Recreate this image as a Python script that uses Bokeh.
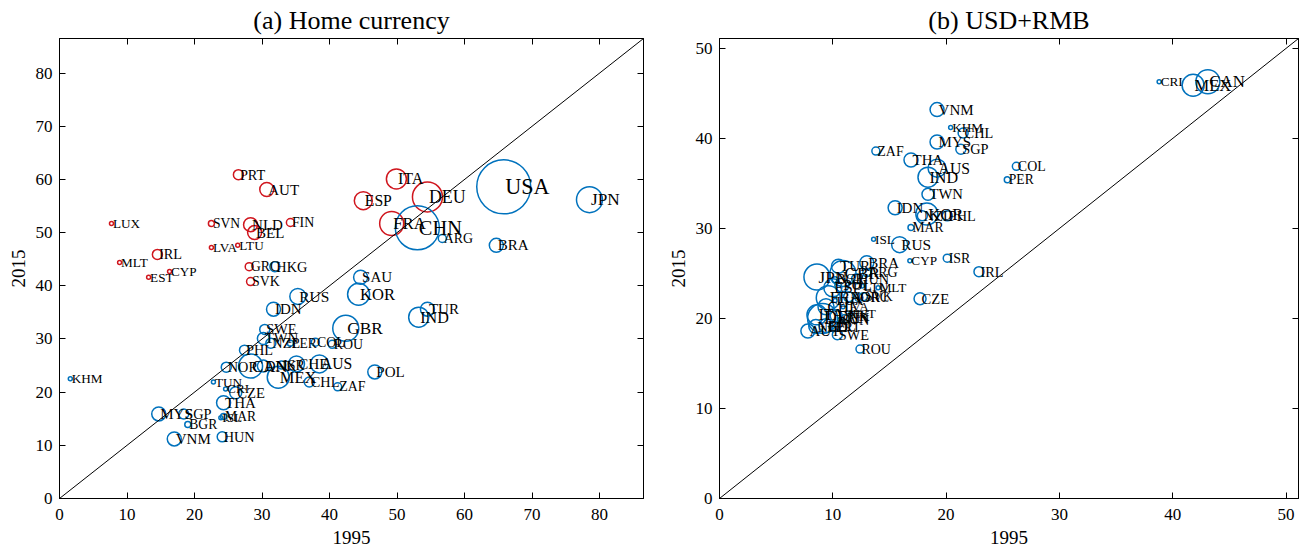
from bokeh.plotting import figure
from bokeh.layouts import row
from bokeh.models import LinearAxis, Range1d, ColumnDataSource, FixedTicker, Slope, CustomJSTickFormatter
from bokeh.core.properties import value
from bokeh.embed import file_html
from bokeh.resources import INLINE
import math

# ---------------- data ----------------
countries = ["PRT", "AUT", "LUX", "SVN", "NLD", "BEL", "FIN", "LVA", "LTU", "IRL",
             "MLT", "EST", "CYP", "GRC", "SVK", "ITA", "ESP", "DEU", "FRA", "HKG",
             "USA", "JPN", "CHN", "ARG", "BRA", "SAU", "KOR", "TUR", "IND", "GBR",
             "POL", "ZAF", "RUS", "IDN", "SWE", "TWN", "NZL", "PER", "COL", "ROU",
             "PHL", "NOR", "CAN", "DNK", "ISR", "CHE", "AUS", "MEX", "CHL", "TUN",
             "CRI", "CZE", "THA", "MAR", "ISL", "HUN", "MYS", "SGP", "BGR", "VNM",
             "KHM"]

trade_weight = [2.5, 4.9, 0.4, 0.9, 4.9, 4.9, 1.6, 0.4, 0.4, 2.5,
                0.4, 0.4, 0.4, 1.6, 1.6, 10.0, 8.1, 22.5, 14.4, 2.5,
                72.9, 16.9, 48.4, 1.6, 4.9, 4.9, 12.1, 4.9, 10.0, 16.9,
                4.9, 1.6, 6.4, 4.9, 2.5, 3.6, 2.5, 0.9, 1.6, 1.6,
                2.5, 2.5, 14.4, 3.6, 1.6, 6.4, 8.1, 12.1, 2.5, 0.4,
                0.4, 3.6, 4.9, 0.9, 0.4, 2.5, 4.9, 2.5, 0.9, 4.9,
                0.4]

euro_area = ["PRT", "AUT", "LUX", "SVN", "NLD", "BEL", "FIN", "LVA", "LTU", "IRL",
             "MLT", "EST", "CYP", "GRC", "SVK", "ITA", "ESP", "DEU", "FRA"]

home_1995 = [26.5, 30.7, 7.7, 22.5, 28.3, 28.9, 34.2, 22.5, 26.4, 14.5,
             8.9, 13.2, 16.3, 28.1, 28.3, 49.9, 45.0, 54.5, 49.2, 31.9,
             65.8, 78.5, 53.0, 56.7, 64.7, 44.6, 44.3, 54.5, 53.2, 42.4,
             46.7, 41.2, 35.3, 31.7, 30.4, 30.2, 31.3, 34.2, 37.9, 40.4,
             27.4, 24.7, 28.3, 30.2, 32.9, 35.1, 38.5, 32.4, 37.0, 22.8,
             24.6, 26.1, 24.3, 24.3, 23.9, 24.1, 14.7, 18.4, 19.0, 17.0,
             1.6]
home_2015 = [60.9, 58.1, 51.7, 51.7, 51.5, 50.0, 51.9, 47.2, 47.6, 45.9,
             44.4, 41.6, 42.7, 43.6, 40.8, 60.1, 56.0, 56.7, 51.7, 43.6,
             58.6, 56.2, 50.9, 48.9, 47.6, 41.6, 38.4, 35.6, 34.1, 32.0,
             23.8, 21.0, 38.0, 35.6, 31.8, 30.1, 29.2, 29.2, 29.4, 29.0,
             27.9, 24.7, 24.9, 24.9, 25.1, 25.3, 25.3, 22.8, 21.9, 21.9,
             20.6, 19.9, 18.0, 15.4, 15.2, 11.6, 15.9, 15.9, 13.9, 11.2,
             22.5]

usd_1995 = [10.1, 7.8, 10.2, 10.7, 8.5, 9.4, 11.1, 10.9, 12.6, 22.9,
            14.0, 11.6, 16.8, 12.3, 12.7, 8.6, 10.0, 9.1, 9.6, None,
            None, 8.6, None, 13.0, 13.0, None, 18.3, 10.5, 18.4, 10.9,
            10.8, 13.8, 15.9, 15.5, 10.4, 18.4, 17.9, 25.4, 26.2, 12.4,
            20.1, 11.4, 43.1, 10.3, 20.1, 9.4, 19.2, 41.8, 21.5, None,
            38.8, 17.7, 16.9, 16.9, 13.6, 12.1, 19.2, 21.3, 10.2, 19.2,
            20.4]
usd_2015 = [19.1, 18.6, 22.0, 19.8, 19.1, 19.2, 20.0, 21.3, 23.6, 25.2,
            23.4, 20.6, 26.4, 22.3, 22.4, 20.4, 23.4, 20.0, 22.3, None,
            None, 24.6, None, 25.1, 26.2, None, 31.6, 25.8, 35.7, 25.0,
            23.7, 38.6, 28.2, 32.3, 18.2, 33.8, 31.4, 35.4, 36.9, 16.6,
            31.4, 22.4, 46.3, 20.3, 26.7, 21.3, 36.7, 45.9, 40.6, None,
            46.3, 22.2, 37.6, 30.1, 28.8, 24.4, 39.6, 38.8, 24.3, 43.2,
            41.2]

BLUE = "#0072BD"
RED = "#D0161E"
FONT = "Liberation Serif"


def build_source(xs, ys, colored):
    d = dict(x=[], y=[], name=[], size=[], fs=[], color=[])
    for c, w, xv, yv in zip(countries, trade_weight, xs, ys):
        if xv is None or yv is None:
            continue
        r = math.sqrt(w * 10.0)
        d["x"].append(xv)
        d["y"].append(yv)
        d["name"].append(c)
        d["size"].append(2 * r)
        d["fs"].append("%.1fpx" % (12.5 + 0.36 * r))
        d["color"].append(RED if (colored and c in euro_area) else BLUE)
    return ColumnDataSource(d)


def make_panel(title, xs, ys, vmax, ticks, width, bl, br, colored, title_shift):
    p = figure(width=width, height=548, x_range=Range1d(0, vmax), y_range=Range1d(0, vmax),
               output_backend="svg", toolbar_location=None,
               min_border_left=bl, min_border_right=br, min_border_top=38, min_border_bottom=50)
    p.grid.visible = False
    p.outline_line_color = "black"
    p.outline_line_width = 1
    p.title.text = title
    p.title.align = "center"
    p.title.offset = title_shift
    p.title.text_font = FONT
    p.title.text_font_size = "26px"
    p.title.text_font_style = "normal"
    p.title.text_color = "black"
    p.title.standoff = 7

    for ax in (p.xaxis[0], p.yaxis[0]):
        ax.ticker = FixedTicker(ticks=ticks)
        ax.major_tick_in = 6
        ax.major_tick_out = 0
        ax.minor_tick_in = 0
        ax.minor_tick_out = 0
        ax.axis_line_color = "black"
        ax.major_tick_line_color = "black"
        ax.major_label_text_font = FONT
        ax.major_label_text_font_size = "17px"
        ax.axis_label_text_font = FONT
        ax.axis_label_text_font_size = "19px"
        ax.axis_label_text_font_style = "normal"
        ax.axis_label_text_color = "black"
        ax.major_label_text_color = "black"
    p.xaxis.axis_label = "1995"
    p.yaxis.axis_label = "2015"
    p.xaxis.major_label_standoff = 10
    p.yaxis.major_label_standoff = 7
    p.xaxis.axis_label_standoff = 8
    p.yaxis.axis_label_standoff = 8

    for loc in ("above", "right"):
        ax = LinearAxis(ticker=FixedTicker(ticks=ticks), major_tick_in=6, major_tick_out=0,
                        minor_tick_in=0, minor_tick_out=0,
                        formatter=CustomJSTickFormatter(code="return ''"),
                        major_label_standoff=0, axis_line_color="black")
        p.add_layout(ax, loc)

    p.add_layout(Slope(gradient=1, y_intercept=0, line_color="black", line_width=1))

    src = build_source(xs, ys, colored)
    p.scatter("x", "y", source=src, marker="circle", size="size", fill_color=None,
              line_color="color", line_width=1.5)
    p.text("x", "y", text="name", source=src, x_offset=1.5, text_baseline="middle",
           text_align="left", text_font=value(FONT), text_font_size="fs", text_color="black")
    return p


p1 = make_panel("(a) Home currency", home_1995, home_2015, 86.5, list(range(0, 81, 10)),
                666, 59, 23, True, -20)
p2 = make_panel("(b) USD+RMB", usd_1995, usd_2015, 51.1, list(range(0, 51, 10)),
                644, 53, 12, False, 4)

layout = row(p1, p2)
open("out.html", "w").write(file_html(layout, INLINE))
